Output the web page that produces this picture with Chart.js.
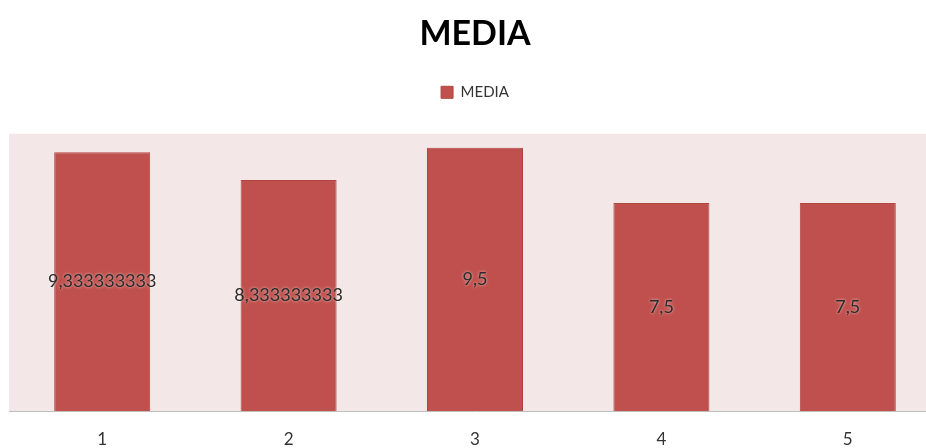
<!DOCTYPE html>
<html lang="es">
<head>
  <meta charset="UTF-8">
  <title>MEDIA</title>
  <script src="https://cdn.jsdelivr.net/npm/chart.js@4.4.0/dist/chart.umd.min.js"></script>
  <style>
    html, body { margin: 0; padding: 0; background: #fff; overflow: hidden; }
    #wrap { width: 941px; height: 448px; }
  </style>
</head>
<body>
  <div id="wrap"><canvas id="myChart"></canvas></div>
  <script>
    const categories = ['1', '2', '3', '4', '5']
    const mediaValues = [9.333333333, 8.333333333, 9.5, 7.5, 7.5]
    const valueLabels = ['9,333333333', '8,333333333', '9,5', '7,5', '7,5']

    // fondo rosado del área de trazado
    const plotBg = {
      id: 'plotBg',
      beforeDraw(chart) {
        const { ctx, chartArea: a } = chart
        ctx.save()
        ctx.fillStyle = '#f3e7e7'
        ctx.fillRect(a.left, a.top, a.right - a.left, a.bottom - a.top)
        ctx.restore()
      }
    }

    // más espacio debajo de la leyenda
    const legendGap = {
      id: 'legendGap',
      beforeInit(chart) {
        const fit = chart.legend.fit
        chart.legend.fit = function () {
          fit.bind(chart.legend)()
          this.height += 24
        }
      }
    }

    // etiquetas de valor en el centro de cada barra
    const barLabels = {
      id: 'barLabels',
      afterDatasetsDraw(chart) {
        const { ctx } = chart
        const meta = chart.getDatasetMeta(0)
        ctx.save()
        ctx.font = '18px Lato, "Open Sans", sans-serif'
        ctx.textAlign = 'center'
        ctx.textBaseline = 'middle'
        ctx.shadowColor = 'rgba(255,255,255,0.7)'
        ctx.shadowBlur = 3
        ctx.fillStyle = '#2b2b2b'
        meta.data.forEach((bar, i) => {
          const y = (bar.y + bar.base) / 2
          ctx.fillText(valueLabels[i], bar.x, y)
        })
        ctx.restore()
      }
    }

    const ctx = document.getElementById('myChart').getContext('2d')
    new Chart(ctx, {
      type: 'bar',
      data: {
        labels: categories,
        datasets: [{
          label: 'MEDIA',
          data: mediaValues,
          backgroundColor: '#c0504d',
          borderColor: '#b04542',
          borderWidth: 1,
          categoryPercentage: 1,
          barPercentage: 0.515
        }]
      },
      options: {
        responsive: true,
        maintainAspectRatio: false,
        animation: false,
        layout: { padding: { left: 9, right: 0, top: 0, bottom: 0 } },
        plugins: {
          title: {
            display: true,
            text: 'MEDIA',
            color: '#000',
            font: { family: 'Lato, "Open Sans", sans-serif', size: 34, weight: 'bold' },
            padding: { top: 14, bottom: 20 }
          },
          legend: {
            display: true,
            labels: {
              color: '#333',
              font: { family: 'Lato, "Open Sans", sans-serif', size: 15 },
              boxWidth: 12,
              boxHeight: 12,
              padding: 10
            }
          },
          tooltip: { enabled: false }
        },
        scales: {
          x: {
            grid: { display: false },
            border: { display: true, color: '#bfbfbf', width: 1 },
            ticks: {
              color: '#333',
              font: { family: 'Lato, "Open Sans", sans-serif', size: 17 },
              padding: 10
            },
            afterFit(scale) { scale.height = 37 }
          },
          y: {
            display: false,
            min: 0,
            max: 10
          }
        }
      },
      plugins: [plotBg, legendGap, barLabels]
    })
  </script>
</body>
</html>
